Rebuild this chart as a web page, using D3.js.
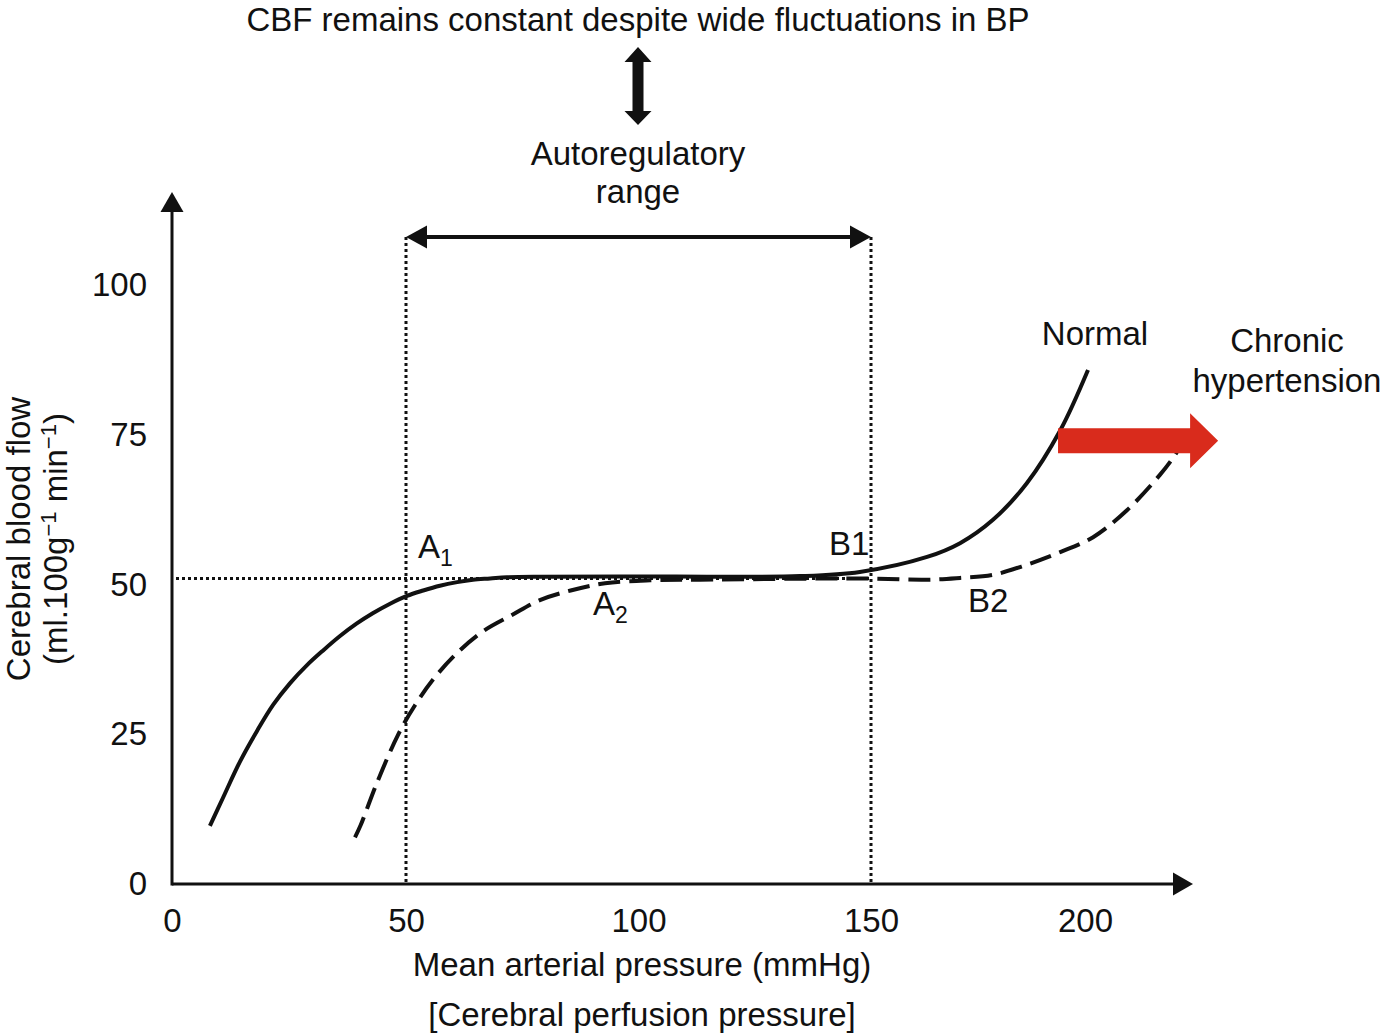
<!DOCTYPE html>
<html><head><meta charset="utf-8">
<script src="https://cdn.jsdelivr.net/npm/d3@7"></script>
<style>
body{margin:0;background:#fff}
svg{display:block}
text{font-family:"Liberation Sans",Arial,Helvetica,sans-serif;fill:#111}
</style>
</head><body>
<svg id="c" width="1384" height="1034"></svg>
<script>
// ---- data ----
const xTicks = [0, 50, 100, 150, 200];
const yTicks = [0, 25, 50, 75, 100];
const normalX = [8.1, 10.9, 14.5, 18.2, 21.6, 25.2, 28.8, 32.3, 35.9, 39.5, 42.9, 46.6, 50.2, 53.7, 57.3, 61.0, 64.4, 68.1, 71.7, 78.8, 96.0, 134.7, 147.6, 163.1, 170.8, 178.5, 186.4, 194.2, 200.7];
const normalY = [9.7, 14.4, 20.4, 25.6, 29.9, 33.5, 36.5, 39.0, 41.4, 43.5, 45.2, 46.8, 48.1, 49.0, 49.8, 50.4, 50.8, 51.0, 51.2, 51.3, 51.35, 51.4, 52.1, 54.6, 56.9, 60.8, 66.9, 75.7, 85.8];
const hyperX = [39.1, 40.3, 43.8, 48.3, 51.9, 56.0, 60.9, 66.6, 72.8, 78.8, 85.4, 92.8, 102.5, 113.2, 147.6, 163.1, 170.8, 178.5, 186.4, 194.2, 201.9, 209.8, 217.5, 221.0, 223.4];
const hyperY = [7.8, 9.8, 16.9, 24.9, 29.8, 34.3, 38.5, 42.2, 44.9, 47.4, 49.0, 50.2, 50.7, 50.8, 51.0, 50.8, 51.1, 51.6, 53.3, 55.4, 57.9, 62.4, 68.3, 71.6, 74.5];
const autoRange = [50, 150];
const baselineCBF = 51;
const shiftArrow = [193.7, 231.1]; // red arrow from/to (x)
const shiftArrowY = 74;

// ---- scales ----
const svg = d3.select("#c");
const x = d3.scaleLinear().domain([0, 50, 150, 200]).range([172, 406, 871, 1085]);
const y = d3.scaleLinear().domain([0, 100]).range([884, 285]);
const X0 = x(0), Y0 = y(0);
const FS = 33;

// ---- axes ----
const gx = svg.append("g").attr("transform", `translate(0,${Y0})`)
  .call(d3.axisBottom(x).tickValues(xTicks).tickSize(0).tickPadding(25));
gx.select(".domain").remove();
gx.selectAll("text").style("font-size", FS + "px").attr("fill", "#111");

const gy = svg.append("g").attr("transform", `translate(${X0},0)`)
  .call(d3.axisLeft(y).tickValues(yTicks).tickSize(0).tickPadding(25));
gy.select(".domain").remove();
gy.selectAll("text").style("font-size", FS + "px").attr("fill", "#111");

// axis lines with arrowheads
svg.append("line").attr("x1", X0).attr("y1", Y0).attr("x2", 1176).attr("y2", Y0)
  .attr("stroke", "#111").attr("stroke-width", 3);
svg.append("path").attr("d", `M1193,${Y0} L1173,${Y0 - 11.5} L1173,${Y0 + 11.5} Z`).attr("fill", "#111");
svg.append("line").attr("x1", X0).attr("y1", Y0 + 1.5).attr("x2", X0).attr("y2", 208)
  .attr("stroke", "#111").attr("stroke-width", 3);
svg.append("path").attr("d", `M${X0},192 L${X0 - 11.5},212 L${X0 + 11.5},212 Z`).attr("fill", "#111");

// ---- dotted reference lines ----
autoRange.forEach(v => {
  svg.append("line").attr("x1", x(v)).attr("x2", x(v)).attr("y1", 237).attr("y2", Y0)
    .attr("stroke", "#111").attr("stroke-width", 3).attr("stroke-dasharray", "3,3");
});
svg.append("line").attr("x1", X0 + 4).attr("x2", x(autoRange[1])).attr("y1", y(baselineCBF)).attr("y2", y(baselineCBF))
  .attr("stroke", "#111").attr("stroke-width", 3).attr("stroke-dasharray", "3,3");

// ---- horizontal double arrow (autoregulatory range) ----
const ax1 = x(autoRange[0]), ax2 = x(autoRange[1]), ay = 237;
svg.append("line").attr("x1", ax1 + 15).attr("x2", ax2 - 15).attr("y1", ay).attr("y2", ay)
  .attr("stroke", "#111").attr("stroke-width", 4);
svg.append("path").attr("d", `M${ax1},${ay} L${ax1 + 21},${ay - 11.5} L${ax1 + 21},${ay + 11.5} Z`).attr("fill", "#111");
svg.append("path").attr("d", `M${ax2},${ay} L${ax2 - 21},${ay - 11.5} L${ax2 - 21},${ay + 11.5} Z`).attr("fill", "#111");

// ---- vertical double arrow ----
const vx = 638;
svg.append("path").attr("d",
  `M${vx},47 L${vx + 13.5},62 L${vx + 5.5},62 L${vx + 5.5},111 L${vx + 13.5},111 L${vx},125 L${vx - 13.5},111 L${vx - 5.5},111 L${vx - 5.5},62 L${vx - 13.5},62 Z`)
  .attr("fill", "#111");

// ---- curves ----
const line = d3.line().x(d => x(d[0])).y(d => y(d[1])).curve(d3.curveCatmullRom.alpha(0.5));
svg.append("path").datum(hyperX.map((v, i) => [v, hyperY[i]]))
  .attr("d", line).attr("fill", "none").attr("stroke", "#111").attr("stroke-width", 4)
  .attr("stroke-dasharray", "22,9");
svg.append("path").datum(normalX.map((v, i) => [v, normalY[i]]))
  .attr("d", line).attr("fill", "none").attr("stroke", "#111").attr("stroke-width", 4);

// ---- red shift arrow ----
const rx1 = x(shiftArrow[0]), rx2 = x(shiftArrow[1]), ry = y(shiftArrowY);
const headL = 28, bodyH = 12.5, headH = 27.5;
svg.append("path").attr("d",
  `M${rx1},${ry - bodyH} L${rx2 - headL},${ry - bodyH} L${rx2 - headL},${ry - headH} L${rx2},${ry} L${rx2 - headL},${ry + headH} L${rx2 - headL},${ry + bodyH} L${rx1},${ry + bodyH} Z`)
  .attr("fill", "#d92b1c");

// ---- texts ----
function txt(t, px, py, anchor = "middle", size = FS) {
  return svg.append("text").attr("x", px).attr("y", py).attr("text-anchor", anchor)
    .style("font-size", size + "px").text(t);
}
txt("CBF remains constant despite wide fluctuations in BP", 638, 31);
txt("Autoregulatory", 638, 165);
txt("range", 638, 203);
txt("Normal", 1095, 345);
txt("Chronic", 1287, 352);
txt("hypertension", 1287, 392);
txt("B1", 829, 555, "start");
txt("B2", 968, 612, "start");
function subLabel(main, s, px, py) {
  const t = svg.append("text").attr("x", px).attr("y", py).style("font-size", FS + "px");
  t.append("tspan").text(main);
  t.append("tspan").attr("dy", 8).style("font-size", "23px").text(s);
}
subLabel("A", "1", 418, 558);
subLabel("A", "2", 593, 615);

// axis titles
txt("Mean arterial pressure (mmHg)", 642, 976);
txt("[Cerebral perfusion pressure]", 642, 1026);
const gl = svg.append("g").attr("transform", "translate(0,539) rotate(-90)");
gl.append("text").attr("x", 0).attr("y", 30).attr("text-anchor", "middle")
  .style("font-size", FS + "px").text("Cerebral blood flow");
const t2 = gl.append("text").attr("x", 0).attr("y", 67).attr("text-anchor", "middle")
  .style("font-size", FS + "px");
t2.append("tspan").text("(ml.100g");
t2.append("tspan").attr("dy", -11).style("font-size", "22px").text("\u22121");
t2.append("tspan").attr("dy", 11).text(" min");
t2.append("tspan").attr("dy", -11).style("font-size", "22px").text("\u22121");
t2.append("tspan").attr("dy", 11).text(")");
</script>
</body></html>
